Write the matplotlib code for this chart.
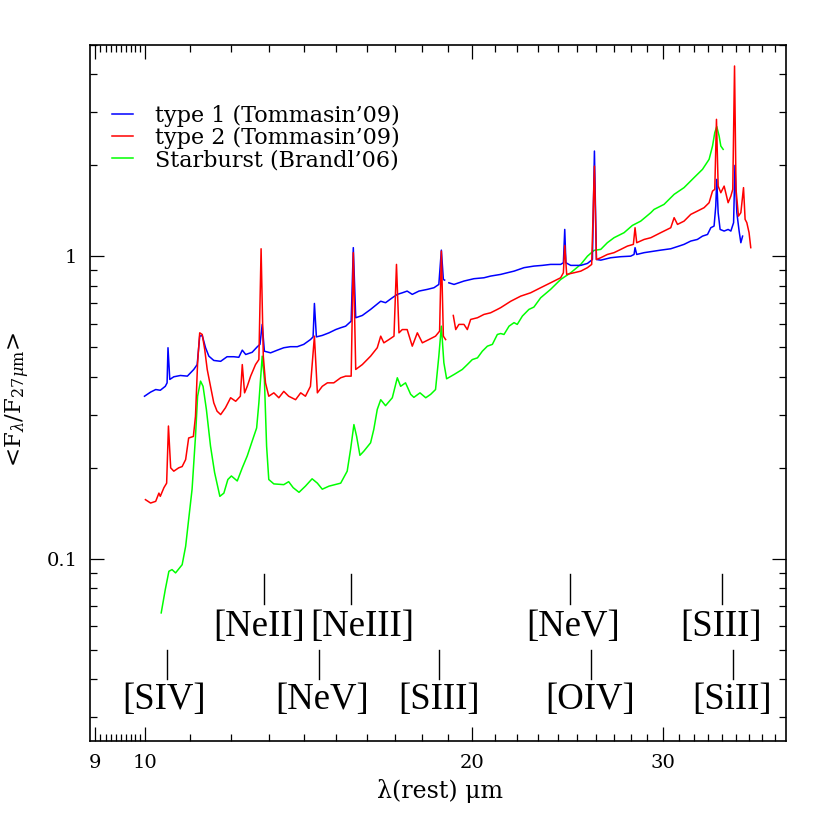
import numpy as np
import matplotlib
matplotlib.use('Agg')
import matplotlib.pyplot as plt
from matplotlib.ticker import FixedLocator, FixedFormatter, NullFormatter

plt.rcParams['font.family'] = 'DejaVu Serif'
plt.rcParams['mathtext.fontset'] = 'dejavuserif'

# type 1 average spectrum (two pieces, gap near 19 um)
blue_wl1 = [9.99, 10.12, 10.23, 10.33, 10.44, 10.48, 10.50, 10.54, 10.63, 10.78, 10.94, 11.09, 11.17,
            11.23, 11.29, 11.37, 11.45, 11.57, 11.74, 11.90, 12.07, 12.20, 12.29, 12.38, 12.55, 12.69,
            12.76, 12.82, 12.88, 13.05, 13.24, 13.42, 13.61, 13.81, 14.00, 14.20, 14.28, 14.32, 14.38,
            14.56, 14.77, 14.98, 15.14, 15.30, 15.48, 15.55, 15.63, 15.85, 16.13, 16.48, 16.65, 16.89,
            17.07, 17.25, 17.43, 17.62, 17.87, 18.19, 18.45, 18.64, 18.74, 18.82, 18.87]
blue_f1 = [0.345, 0.356, 0.363, 0.361, 0.372, 0.382, 0.499, 0.392, 0.400, 0.404, 0.402, 0.423, 0.439,
           0.545, 0.548, 0.499, 0.468, 0.453, 0.450, 0.466, 0.466, 0.464, 0.490, 0.474, 0.482, 0.503,
           0.512, 0.596, 0.486, 0.480, 0.490, 0.499, 0.503, 0.503, 0.512, 0.531, 0.542, 0.699, 0.542,
           0.548, 0.559, 0.573, 0.581, 0.588, 0.611, 1.069, 0.627, 0.638, 0.668, 0.711, 0.703, 0.730,
           0.749, 0.758, 0.768, 0.749, 0.768, 0.778, 0.788, 0.808, 1.049, 0.839, 0.835]
blue_wl2 = [19.04, 19.25, 19.66, 20.08, 20.51, 20.80, 21.25, 21.55, 21.86, 22.33, 22.80, 23.21, 23.62,
            24.13, 24.27, 24.34, 24.40, 24.65, 25.18, 25.54, 25.81, 25.92, 26.03, 26.27, 26.83, 27.41,
            27.99, 28.19, 28.25, 28.35, 28.80, 29.21, 29.83, 30.47, 31.01, 31.34, 31.79, 32.24, 32.59,
            32.94, 33.17, 33.40, 33.52, 33.59, 33.69, 33.83, 34.12, 34.41, 34.61, 34.81, 34.91, 35.05,
            35.22, 35.35, 35.48]
blue_f2 = [0.818, 0.808, 0.829, 0.844, 0.850, 0.861, 0.872, 0.883, 0.894, 0.918, 0.929, 0.934, 0.941,
           0.941, 0.953, 1.228, 0.953, 0.934, 0.934, 0.948, 0.977, 2.230, 0.977, 0.972, 0.990, 0.998,
           1.002, 1.015, 1.069, 1.015, 1.029, 1.037, 1.049, 1.060, 1.082, 1.096, 1.124, 1.138, 1.167,
           1.182, 1.244, 1.260, 1.467, 1.798, 1.395, 1.228, 1.213, 1.228, 1.213, 1.293, 2.0, 1.395,
           1.213, 1.110, 1.167]

# type 2 average spectrum
red_wl1 = [10.01, 10.12, 10.23, 10.30, 10.33, 10.41, 10.47, 10.51, 10.56, 10.63, 10.74, 10.82, 10.90,
           10.97, 11.08, 11.13, 11.18, 11.23, 11.29, 11.35, 11.41, 11.49, 11.57, 11.65, 11.74, 11.86,
           11.99, 12.12, 12.24, 12.29, 12.35, 12.42, 12.51, 12.64, 12.73, 12.79, 12.85, 12.91, 13.00,
           13.14, 13.28, 13.42, 13.56, 13.76, 13.91, 14.05, 14.20, 14.32, 14.41, 14.56, 14.72, 14.92,
           15.14, 15.30, 15.48, 15.55, 15.63, 15.85, 16.13, 16.36, 16.48, 16.59, 16.77, 16.95, 17.04,
           17.13, 17.25, 17.43, 17.62, 17.81, 18.00, 18.25, 18.51, 18.67, 18.74, 18.82, 18.91]
red_f1 = [0.157, 0.153, 0.155, 0.165, 0.161, 0.172, 0.178, 0.275, 0.200, 0.195, 0.200, 0.202, 0.213,
          0.251, 0.254, 0.296, 0.445, 0.559, 0.552, 0.492, 0.423, 0.372, 0.328, 0.308, 0.300, 0.316,
          0.341, 0.332, 0.345, 0.439, 0.354, 0.372, 0.402, 0.439, 0.456, 1.06, 0.468, 0.382, 0.345,
          0.354, 0.341, 0.358, 0.345, 0.336, 0.354, 0.345, 0.372, 0.545, 0.354, 0.372, 0.382, 0.382,
          0.397, 0.402, 0.402, 1.029, 0.423, 0.439, 0.468, 0.499, 0.545, 0.518, 0.531, 0.545, 0.941,
          0.559, 0.573, 0.573, 0.505, 0.559, 0.518, 0.531, 0.545, 0.566, 1.041, 0.545, 0.531]
red_wl2 = [19.22, 19.32, 19.45, 19.66, 19.80, 19.94, 20.23, 20.51, 20.80, 21.10, 21.25, 21.71, 22.17,
           22.64, 23.13, 23.62, 24.13, 24.27, 24.34, 24.44, 24.82, 25.18, 25.54, 25.77, 25.92, 26.03,
           26.27, 26.64, 27.02, 27.41, 27.80, 28.15, 28.25, 28.35, 28.80, 29.21, 29.83, 30.47, 30.69,
           30.91, 31.34, 31.79, 32.24, 32.70, 33.05, 33.29, 33.45, 33.57, 33.69, 33.88, 34.12, 34.41,
           34.61, 34.75, 34.88, 34.99, 35.17, 35.35, 35.55, 35.67, 35.80, 35.97, 36.10]
red_f2 = [0.638, 0.573, 0.596, 0.596, 0.573, 0.619, 0.627, 0.643, 0.651, 0.668, 0.677, 0.711, 0.739,
          0.758, 0.788, 0.818, 0.850, 0.883, 1.087, 0.872, 0.883, 0.894, 0.918, 0.941, 1.989, 0.977,
          0.990, 1.015, 1.029, 1.055, 1.082, 1.096, 1.244, 1.110, 1.138, 1.153, 1.198, 1.244, 1.343,
          1.276, 1.308, 1.377, 1.412, 1.449, 1.505, 1.644, 1.666, 2.839, 1.708, 1.624, 1.708, 1.505,
          1.583, 1.666, 4.261, 1.666, 1.359, 1.395, 1.688, 1.326, 1.293, 1.198, 1.069]

# starburst template
green_wl = [10.35, 10.44, 10.52, 10.59, 10.67, 10.82, 10.90, 10.97, 11.05, 11.13, 11.18, 11.25, 11.31,
            11.39, 11.49, 11.59, 11.72, 11.82, 11.92, 12.01, 12.16, 12.29, 12.42, 12.55, 12.67, 12.73,
            12.82, 12.88, 12.94, 13.00, 13.14, 13.42, 13.56, 13.69, 13.86, 14.05, 14.25, 14.41, 14.56,
            14.77, 15.14, 15.35, 15.46, 15.57, 15.66, 15.77, 15.90, 16.13, 16.24, 16.36, 16.48, 16.65,
            16.89, 17.07, 17.19, 17.37, 17.56, 17.68, 17.91, 18.13, 18.32, 18.51, 18.64, 18.74, 18.84,
            18.95, 19.25, 19.59, 19.80, 20.01, 20.23, 20.44, 20.66, 20.88, 21.10, 21.25, 21.40, 21.63,
            21.86, 22.01, 22.25, 22.56, 22.80, 23.13, 23.62, 24.13, 24.65, 25.18, 25.54, 25.90, 26.27,
            26.64, 27.02, 27.60, 28.09, 28.59, 28.90, 29.21, 29.41, 30.04, 30.69, 31.34, 32.01, 32.59,
            33.05, 33.29, 33.45, 33.59, 33.76, 33.88, 34.05]
green_f = [0.0663, 0.0792, 0.0910, 0.0922, 0.0899, 0.0957, 0.110, 0.135, 0.170, 0.254, 0.345, 0.387,
           0.372, 0.312, 0.236, 0.193, 0.161, 0.165, 0.183, 0.188, 0.181, 0.200, 0.219, 0.245, 0.271,
           0.328, 0.468, 0.392, 0.236, 0.183, 0.177, 0.176, 0.180, 0.172, 0.166, 0.174, 0.184, 0.178,
           0.170, 0.174, 0.178, 0.195, 0.230, 0.278, 0.254, 0.220, 0.227, 0.242, 0.268, 0.312, 0.336,
           0.321, 0.341, 0.397, 0.372, 0.382, 0.350, 0.342, 0.354, 0.341, 0.350, 0.363, 0.468, 0.588,
           0.445, 0.394, 0.407, 0.423, 0.439, 0.456, 0.462, 0.486, 0.505, 0.512, 0.552, 0.556, 0.552,
           0.588, 0.604, 0.596, 0.635, 0.668, 0.680, 0.730, 0.778, 0.839, 0.883, 0.941, 1.002, 1.047,
           1.055, 1.110, 1.153, 1.198, 1.266, 1.308, 1.351, 1.395, 1.430, 1.486, 1.604, 1.688, 1.821,
           1.940, 2.094, 2.317, 2.566, 2.686, 2.500, 2.317, 2.259]

# line identifications: name, tick wavelength, text wavelength, row (0 upper, 1 lower)
line_names = ['[SIV]', '[NeII]', '[NeV]', '[NeIII]', '[SIII]', '[NeV]', '[OIV]', '[SIII]', '[SiII]']
line_wl = [10.48, 12.88, 14.45, 15.49, 18.63, 24.60, 25.72, 33.95, 34.73]
line_text_wl = [10.42, 12.73, 14.57, 15.86, 18.63, 24.75, 25.67, 33.88, 34.68]
line_row = [1, 0, 1, 0, 1, 0, 1, 0, 1]

xtick_vals = [9, 10, 20, 30]
xtick_labels = ['9', '10', '20', '30']
ytick_vals = [0.1, 1]
ytick_labels = ['0.1', '1']

fig = plt.figure(figsize=(8.3, 8.3), dpi=100)
ax = fig.add_axes([0.1084, 0.1072, 0.8386, 0.8386])

lw = 1.1
g, = ax.plot(green_wl, green_f, color='#00ff00', lw=lw)
b, = ax.plot(blue_wl1, blue_f1, color='#0000ff', lw=lw)
ax.plot(blue_wl2, blue_f2, color='#0000ff', lw=lw)
r, = ax.plot(red_wl1, red_f1, color='#ff0000', lw=lw)
ax.plot(red_wl2, red_f2, color='#ff0000', lw=lw)

ax.set_xscale('log')
ax.set_yscale('log')
ax.set_xlim(8.9, 38.9)
ax.set_ylim(0.025, 5.0)

# tick marks and labels
ax.xaxis.set_major_locator(FixedLocator(xtick_vals))
ax.xaxis.set_major_formatter(FixedFormatter(xtick_labels))
xminor = list(np.arange(9.1, 9.95, 0.1)) + list(range(11, 20)) + list(range(21, 30)) + list(range(31, 39))
ax.xaxis.set_minor_locator(FixedLocator(xminor))
ax.xaxis.set_minor_formatter(NullFormatter())

ax.yaxis.set_major_locator(FixedLocator(ytick_vals))
ax.yaxis.set_major_formatter(FixedFormatter(ytick_labels))
yminor = [0.03, 0.04, 0.05, 0.06, 0.07, 0.08, 0.09] + [0.1 * k for k in range(2, 10)] + [2, 3, 4, 5]
ax.yaxis.set_minor_locator(FixedLocator(yminor))
ax.yaxis.set_minor_formatter(NullFormatter())

ax.tick_params(which='both', direction='in', top=True, right=True, width=0.9, labelsize=14, pad=9)
ax.tick_params(which='major', length=10)
ax.tick_params(which='minor', length=5)
for s in ax.spines.values():
    s.set_linewidth(1.2)

# line ids below the spectra
tick_rng = {0: (0.071, 0.089), 1: (0.040, 0.050)}
text_y = {0: 0.0597, 1: 0.0342}
for name, wl, twl, row in zip(line_names, line_wl, line_text_wl, line_row):
    ax.plot([wl, wl], tick_rng[row], color='k', lw=1.0)
    ax.text(twl, text_y[row], name, ha='center', va='center', fontsize=26.5,
            family='Liberation Serif')

ax.set_xlabel('λ(rest) μm', fontsize=17)
ax.xaxis.set_label_coords(0.503, -0.054)
ax.set_ylabel(r'<F$_\lambda$/F$_{27\mu\mathrm{m}}$>', fontsize=16.5)
ax.yaxis.set_label_coords(-0.084, 0.49)

ax.legend([b, r, g], ['type 1 (Tommasin’09)', 'type 2 (Tommasin’09)', 'Starburst (Brandl’06)'],
          loc='upper left', bbox_to_anchor=(0.0316, 0.914), borderaxespad=0, borderpad=0,
          frameon=False, fontsize=16, handlelength=0.95, handletextpad=1.0, labelspacing=0.0)

fig.savefig('out.png', dpi=100)
